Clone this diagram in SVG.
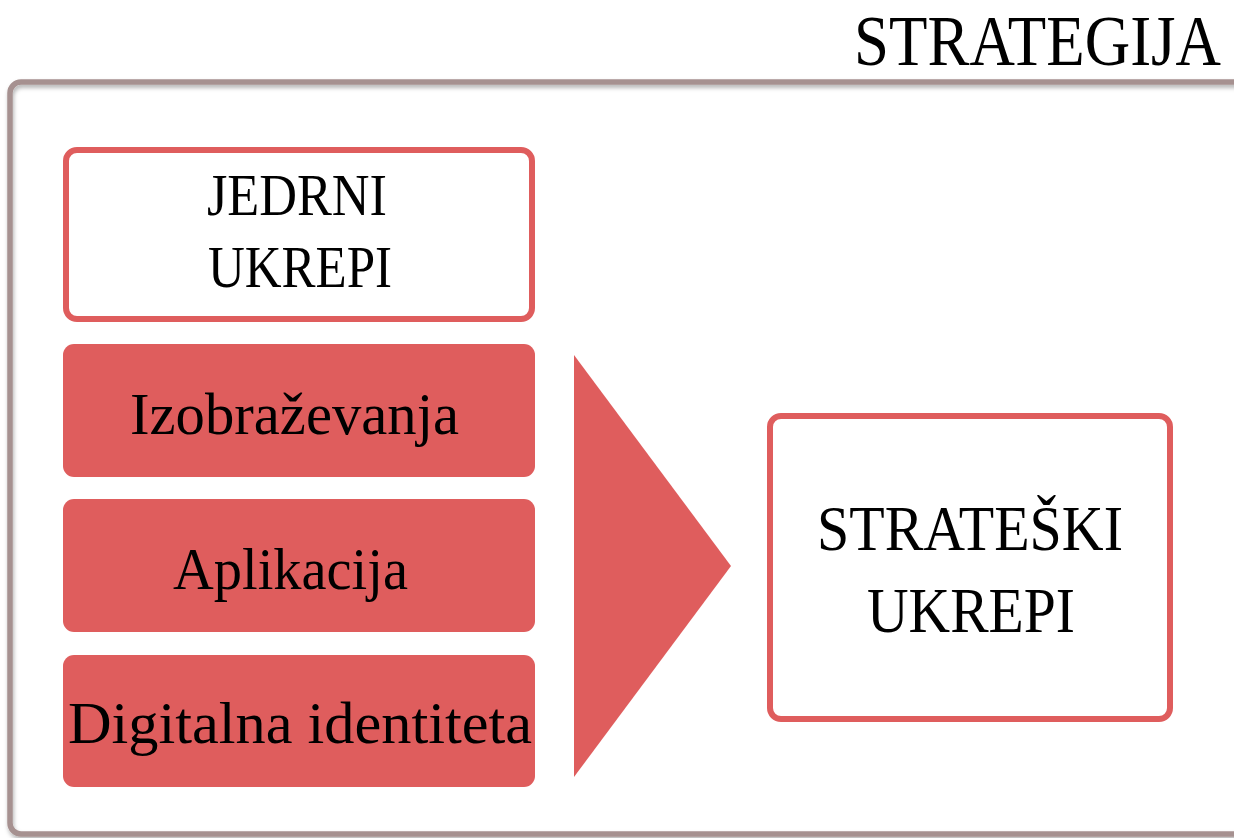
<svg xmlns="http://www.w3.org/2000/svg" width="1234" height="838" viewBox="0 0 1234 838">
  <style>
    .t { font-family: "Liberation Serif", "DejaVu Serif", serif; fill: #000; }
    .outline { fill: #fff; stroke: #df5d5d; stroke-width: 6; }
    .filled { fill: #df5d5d; stroke: none; }
  </style>
  <defs>
    <filter id="sh" x="-5%" y="-5%" width="110%" height="110%">
      <feDropShadow dx="1" dy="3" stdDeviation="2" flood-color="#000" flood-opacity="0.3"/>
    </filter>
  </defs>
  <rect width="1234" height="838" fill="#fff"/>
  <g id="title">
    <text class="t" x="1221" y="65" font-size="71" text-anchor="end" textLength="367" lengthAdjust="spacingAndGlyphs">STRATEGIJA</text>
  </g>
  <g id="frame">
    <rect x="10" y="82" width="1244" height="752" rx="11" fill="none" stroke="#a69190" stroke-width="5.5" filter="url(#sh)"/>
  </g>
  <g id="jedrni">
    <rect class="outline" x="66" y="150" width="466" height="169" rx="11"/>
    <text class="t" x="297" y="215" font-size="60" text-anchor="middle" textLength="180" lengthAdjust="spacingAndGlyphs">JEDRNI</text>
    <text class="t" x="300" y="287" font-size="60" text-anchor="middle" textLength="184" lengthAdjust="spacingAndGlyphs">UKREPI</text>
  </g>
  <g id="izobrazevanja">
    <rect class="filled" x="63" y="344" width="472" height="133" rx="11"/>
    <text class="t" x="294.5" y="434" font-size="60" text-anchor="middle" textLength="329" lengthAdjust="spacingAndGlyphs">Izobraževanja</text>
  </g>
  <g id="aplikacija">
    <rect class="filled" x="63" y="499" width="472" height="133" rx="11"/>
    <text class="t" x="290.5" y="589" font-size="60" text-anchor="middle" textLength="235" lengthAdjust="spacingAndGlyphs">Aplikacija</text>
  </g>
  <g id="digitalna">
    <rect class="filled" x="63" y="655" width="472" height="132" rx="11"/>
    <text class="t" x="300" y="743" font-size="60" text-anchor="middle" textLength="464" lengthAdjust="spacingAndGlyphs">Digitalna identiteta</text>
  </g>
  <g id="connectors">
    <polygon points="574,355 731,566 574,777" fill="#df5d5d"/>
  </g>
  <g id="strateski">
    <rect class="outline" x="770" y="416" width="400" height="303" rx="11"/>
    <text class="t" x="970" y="550" font-size="63" text-anchor="middle" textLength="306" lengthAdjust="spacingAndGlyphs">STRATEŠKI</text>
    <text class="t" x="971" y="632" font-size="63" text-anchor="middle" textLength="208" lengthAdjust="spacingAndGlyphs">UKREPI</text>
  </g>
</svg>
